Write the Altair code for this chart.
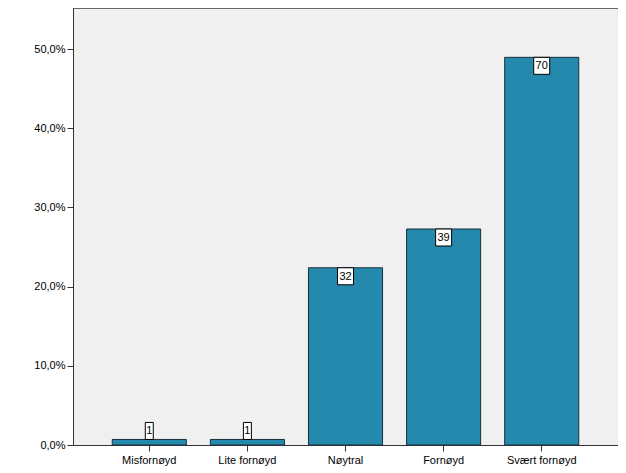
import altair as alt
import pandas as pd

categories = ["Misfornøyd", "Lite fornøyd", "Nøytral", "Fornøyd", "Svært fornøyd"]
counts = [1, 1, 32, 39, 70]

total = sum(counts)
df = pd.DataFrame({
    "cat": categories,
    "n": counts,
    "pct": [c / total * 100 for c in counts],
    "shp": ["one" if c < 10 else "two" for c in counts],
})

xenc = alt.X("cat:N", sort=categories, title=None,
             scale=alt.Scale(paddingInner=0.245, paddingOuter=0.4),
             axis=alt.Axis(labelAngle=0, labelFont="Liberation Sans", labelFontSize=11,
                           labelColor="#000", tickColor="#333", tickSize=6,
                           domainColor="#333", labelPadding=3))
yenc = alt.Y("pct:Q", title=None,
             scale=alt.Scale(domain=[0, 55.18], nice=False, zero=True),
             axis=alt.Axis(values=[0, 10, 20, 30, 40, 50], grid=False,
                           labelExpr="replace(format(datum.value, '.1f'), '.', ',') + '%'",
                           labelFont="Liberation Sans", labelFontSize=11, labelColor="#000",
                           tickColor="#333", tickSize=6, domainColor="#333", labelPadding=2))

base = alt.Chart(df)

bars = base.mark_bar(color="#2589ae", stroke="#1c2f3a", strokeWidth=1).encode(x=xenc, y=yenc)

shape_scale = alt.Scale(domain=["one", "two"],
                        range=["M-0.47,-1L0.47,-1L0.47,1L-0.47,1Z",
                               "M-0.94,-1L0.94,-1L0.94,1L-0.94,1Z"])

big = base.transform_filter("datum.pct >= 5")
small = base.transform_filter("datum.pct < 5")

def boxes(src, dy):
    return src.mark_point(filled=True, fill="white", stroke="#000", strokeWidth=1,
                          opacity=1, size=289, yOffset=dy).encode(
        x=xenc, y=yenc,
        shape=alt.Shape("shp:N", scale=shape_scale, legend=None))

def labels(src, dy):
    return src.mark_text(font="Liberation Sans", fontSize=11, color="#000",
                         yOffset=dy, baseline="middle").encode(
        x=xenc, y=yenc, text="n:Q")

chart = alt.layer(
    bars,
    boxes(big, 8.5), labels(big, 9),
    boxes(small, -8.5), labels(small, -8),
).properties(
    width=545, height=437,
    background="white",
    padding={"left": 65, "top": 0, "right": 0, "bottom": 28},
    autosize=alt.AutoSizeParams(type="none"),
).configure_view(
    fill="#f0f0f0", stroke="#666", strokeWidth=1
)

chart.save("out.html", embed_options={"renderer": "svg", "actions": False})
